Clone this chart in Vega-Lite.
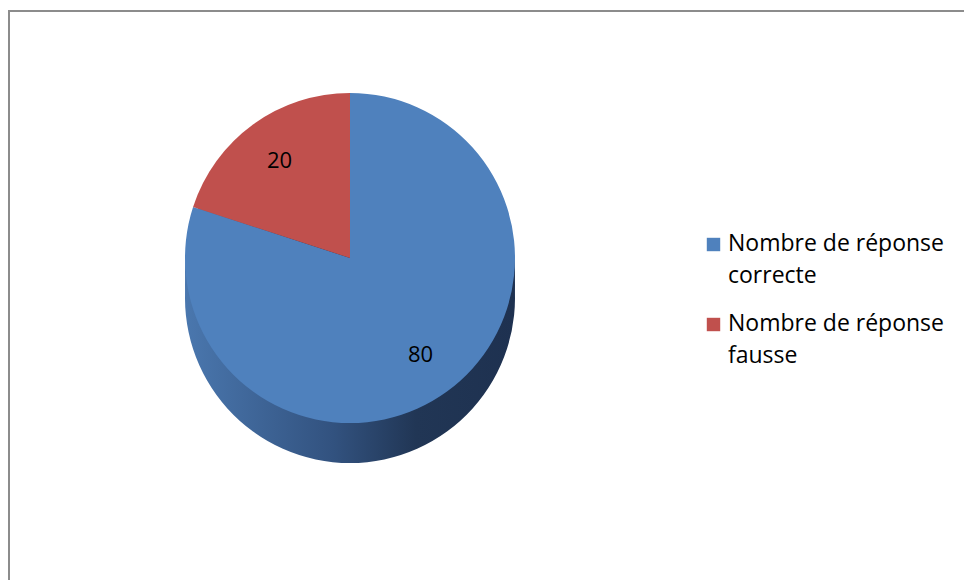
{
  "$schema": "https://vega.github.io/schema/vega-lite/v6.json",
  "width": 964,
  "height": 580,
  "autosize": {"type": "fit", "contains": "padding"},
  "padding": {"left": 9, "top": 11, "right": -8, "bottom": -8},
  "background": "white",
  "view": {"stroke": "#8c8c8c", "strokeWidth": 2},
  "config": {"view": {"stroke": "#8c8c8c", "strokeWidth": 2}},
  "data": {
    "values": [
      {"categorie": "Nombre de réponse correcte", "valeur": 80},
      {"categorie": "Nombre de réponse fausse", "valeur": 20}
    ]
  },
  "encoding": {
    "theta": {"field": "valeur", "type": "quantitative", "stack": true},
    "order": {"field": "categorie", "sort": "ascending"}
  },
  "layer": [
    {
      "mark": {"type": "arc", "x": 341, "y": 247, "radius": 165, "yOffset": 40,
        "fill": {"gradient": "linear", "x1": 0, "x2": 1, "y1": 0, "y2": 0,
          "stops": [{"offset": 0, "color": "#4a77ae"}, {"offset": 0.45, "color": "#32527f"}, {"offset": 0.7, "color": "#213655"}, {"offset": 1, "color": "#1e3150"}]}},
      "encoding": {"detail": {"field": "categorie"}}
    },
    {
      "mark": {"type": "arc", "x": 341, "y": 247, "radius": 165, "yOffset": 27,
        "fill": {"gradient": "linear", "x1": 0, "x2": 1, "y1": 0, "y2": 0,
          "stops": [{"offset": 0, "color": "#4a77ae"}, {"offset": 0.45, "color": "#32527f"}, {"offset": 0.7, "color": "#213655"}, {"offset": 1, "color": "#1e3150"}]}},
      "encoding": {"detail": {"field": "categorie"}}
    },
    {
      "mark": {"type": "arc", "x": 341, "y": 247, "radius": 165, "yOffset": 14,
        "fill": {"gradient": "linear", "x1": 0, "x2": 1, "y1": 0, "y2": 0,
          "stops": [{"offset": 0, "color": "#4a77ae"}, {"offset": 0.45, "color": "#32527f"}, {"offset": 0.7, "color": "#213655"}, {"offset": 1, "color": "#1e3150"}]}},
      "encoding": {"detail": {"field": "categorie"}}
    },
    {
      "mark": {"type": "arc", "x": 341, "y": 247, "radius": 165},
      "encoding": {
        "color": {
          "field": "categorie",
          "type": "nominal",
          "scale": {"domain": ["Nombre de réponse correcte", "Nombre de réponse fausse"], "range": ["#4F81BD", "#C0504D"]},
          "legend": {
            "title": null,
            "orient": "none",
            "legendX": 693,
            "legendY": 222,
            "symbolType": "square",
            "symbolSize": 180,
            "symbolStrokeWidth": 0,
            "labelFont": "Open Sans",
            "labelFontSize": 23,
            "labelColor": "black",
            "labelOffset": 3,
            "labelLimit": 400,
            "rowPadding": 24,
            "labelBaseline": "top",
            "labelExpr": "[slice(datum.label, 0, 17), slice(datum.label, 18)]",
            "encode": {"labels": {"update": {"lineHeight": {"value": 32}, "dy": {"value": -12}}}}
          }
        }
      }
    },
    {
      "mark": {"type": "text", "x": 341, "y": 247, "radius": 120, "font": "Open Sans", "fontSize": 22, "fill": "black"},
      "encoding": {
        "detail": {"field": "categorie"},
        "text": {"field": "valeur", "type": "quantitative"}
      }
    }
  ]
}
